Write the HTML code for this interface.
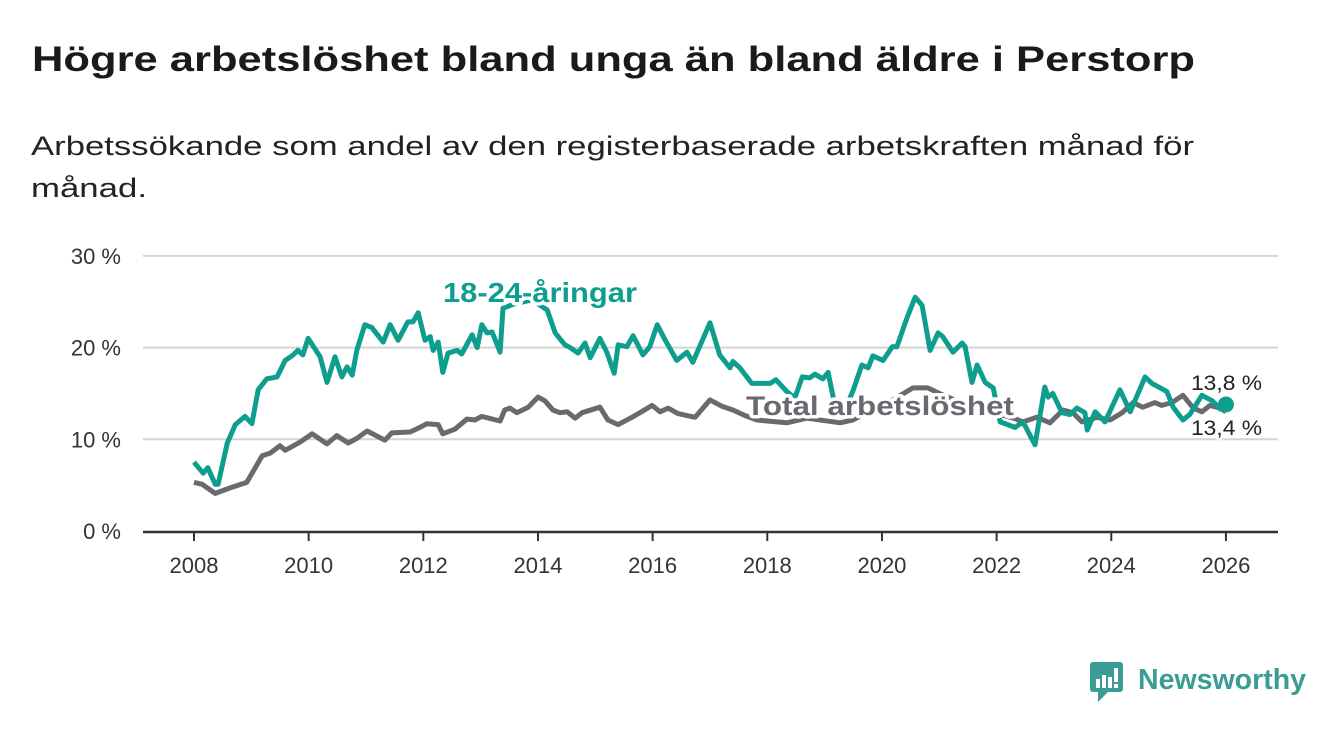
<!DOCTYPE html>
<html><head><meta charset="utf-8"><style>
html,body{margin:0;padding:0;background:#fff;}
svg{display:block;font-family:"Liberation Sans","DejaVu Sans",sans-serif;}
</style></head><body>
<svg id="chart" width="1340" height="734" viewBox="0 0 1340 734" xmlns="http://www.w3.org/2000/svg">
<rect width="1340" height="734" fill="#fff"/>
<text x="32" y="71" font-size="35" font-weight="bold" fill="#1a1a1a" textLength="1163" lengthAdjust="spacingAndGlyphs">Högre arbetslöshet bland unga än bland äldre i Perstorp</text>
<text x="31" y="155" font-size="27" fill="#222" textLength="1163" lengthAdjust="spacingAndGlyphs">Arbetssökande som andel av den registerbaserade arbetskraften månad för</text>
<text x="31" y="197" font-size="27" fill="#222" textLength="116" lengthAdjust="spacingAndGlyphs">månad.</text>
<g id="grid"></g>
<g id="axes"></g>
<g id="series"></g>
<g id="labels"></g>
<g>
<rect x="1090" y="662" width="33" height="30" rx="3" fill="#3b9c95"/>
<polygon points="1098,692 1108,692 1098,702" fill="#3b9c95"/>
<rect x="1096" y="679" width="4" height="9" fill="#fff"/>
<rect x="1102" y="675" width="4" height="13" fill="#fff"/>
<rect x="1108" y="677" width="4" height="11" fill="#fff"/>
<rect x="1114" y="668" width="4" height="14" fill="#fff"/>
<rect x="1114" y="684" width="4" height="4" fill="#fff"/>
<text x="1138" y="689" font-size="29" font-weight="bold" fill="#3b9c95" textLength="168" lengthAdjust="spacingAndGlyphs">Newsworthy</text>
</g>
</svg>
<script>
const yTicks = [0, 10, 20, 30];
const yTickLabels = ["0 %", "10 %", "20 %", "30 %"];
const xTicks = [2008, 2010, 2012, 2014, 2016, 2018, 2020, 2022, 2024, 2026];
const youthYears = [2008.0,2008.16,2008.24,2008.37,2008.42,2008.58,2008.72,2008.89,2009.01,2009.12,2009.27,2009.45,2009.59,2009.73,2009.81,2009.90,2009.99,2010.20,2010.32,2010.46,2010.58,2010.67,2010.76,2010.84,2010.98,2011.10,2011.30,2011.42,2011.56,2011.73,2011.82,2011.91,2012.03,2012.12,2012.17,2012.26,2012.34,2012.43,2012.59,2012.67,2012.85,2012.94,2013.02,2013.11,2013.20,2013.34,2013.39,2013.6,2013.9,2014.16,2014.30,2014.47,2014.56,2014.70,2014.82,2014.91,2015.08,2015.20,2015.33,2015.40,2015.55,2015.66,2015.83,2015.95,2016.08,2016.22,2016.42,2016.60,2016.70,2017.00,2017.17,2017.35,2017.40,2017.52,2017.73,2018.05,2018.15,2018.34,2018.48,2018.61,2018.74,2018.83,2018.97,2019.06,2019.15,2019.30,2019.49,2019.65,2019.76,2019.84,2020.02,2020.18,2020.26,2020.44,2020.58,2020.70,2020.84,2020.98,2021.06,2021.24,2021.40,2021.45,2021.57,2021.66,2021.80,2021.94,2022.06,2022.32,2022.46,2022.67,2022.84,2022.90,2022.98,2023.14,2023.28,2023.40,2023.54,2023.58,2023.72,2023.89,2024.15,2024.33,2024.59,2024.71,2024.97,2025.08,2025.25,2025.37,2025.58,2025.76,2025.90,2026.0];
const youthValues = [7.5,6.3,6.9,5.1,5.1,9.6,11.6,12.5,11.7,15.4,16.6,16.8,18.6,19.2,19.7,19.2,21.0,19.0,16.2,19.0,16.8,17.9,17.0,19.7,22.5,22.2,20.6,22.5,20.8,22.8,22.8,23.8,20.8,21.2,19.7,20.6,17.3,19.4,19.7,19.3,21.4,20.0,22.5,21.6,21.7,19.5,24.3,24.8,25.2,24.1,21.6,20.3,20.0,19.4,20.5,18.9,21.0,19.5,17.2,20.3,20.1,21.3,19.2,20.1,22.5,20.8,18.6,19.5,18.4,22.7,19.2,17.8,18.5,17.8,16.1,16.1,16.5,15.2,14.5,16.8,16.7,17.1,16.6,17.3,14.6,12.5,15.2,18.1,17.8,19.1,18.6,20.1,20.1,23.3,25.5,24.6,19.7,21.6,21.2,19.5,20.5,20.1,16.2,18.1,16.2,15.6,11.9,11.3,11.9,9.4,15.7,14.6,15.0,12.9,12.7,13.4,12.9,11.0,13.0,11.9,15.4,13.0,16.8,16.1,15.2,13.5,12.1,12.7,14.8,14.2,13.3,13.8];
const totalYears = [2008.0,2008.14,2008.37,2008.63,2008.92,2009.19,2009.33,2009.50,2009.59,2009.85,2010.06,2010.32,2010.49,2010.69,2010.84,2011.02,2011.33,2011.45,2011.77,2011.94,2012.06,2012.26,2012.34,2012.55,2012.76,2012.90,2013.02,2013.34,2013.42,2013.51,2013.63,2013.83,2014.0,2014.12,2014.26,2014.38,2014.51,2014.65,2014.77,2015.08,2015.22,2015.40,2015.61,2015.78,2015.99,2016.13,2016.27,2016.44,2016.74,2017.0,2017.21,2017.40,2017.61,2017.82,2018.0,2018.34,2018.69,2019.27,2019.49,2019.84,2020.19,2020.54,2020.8,2021.0,2021.3,2021.6,2022.0,2022.3,2022.46,2022.70,2022.93,2023.16,2023.33,2023.49,2023.75,2023.98,2024.19,2024.38,2024.55,2024.76,2024.88,2025.06,2025.25,2025.43,2025.58,2025.72,2025.90,2026.0];
const totalValues = [5.3,5.1,4.1,4.7,5.3,8.2,8.5,9.3,8.8,9.7,10.6,9.5,10.4,9.6,10.1,10.9,9.9,10.7,10.8,11.3,11.7,11.6,10.6,11.1,12.2,12.1,12.5,12.0,13.2,13.4,12.9,13.5,14.6,14.2,13.2,12.9,13.0,12.3,12.9,13.5,12.1,11.6,12.3,12.9,13.7,13.0,13.4,12.8,12.4,14.3,13.6,13.2,12.6,12.1,12.0,11.8,12.3,11.8,12.1,13.2,14.3,15.6,15.6,15.0,14.2,13.4,12.8,12.3,11.9,12.4,11.8,13.2,12.9,11.9,12.4,12.1,12.9,14.0,13.5,14.0,13.7,14.0,14.8,13.4,13.0,13.7,13.4,13.0,13.4];

const NS='http://www.w3.org/2000/svg';
const X0=143,X1=1278,Y0=531,PXV=9.17;
function xs(y){return 194+(y-2008)*57.33;}
function ys(v){return Y0-v*PXV;}
function mk(tag,attrs,parent){const e=document.createElementNS(NS,tag);for(const k in attrs)e.setAttribute(k,attrs[k]);parent.appendChild(e);return e;}
const grid=document.getElementById('grid'),axes=document.getElementById('axes'),series=document.getElementById('series'),labels=document.getElementById('labels');
yTicks.forEach((t,i)=>{
  if(t>0){const g=mk('line',{x1:X0,x2:X1,y1:ys(t),y2:ys(t),stroke:'#d4d4d4','stroke-width':2},grid);
  
  }
  const tx=mk('text',{x:121,y:ys(t)+8,'font-size':22,fill:'#333','text-anchor':'end'},axes);
  tx.textContent=yTickLabels[i];
  
  
});
const ax=mk('line',{x1:X0,x2:X1,y1:Y0+1,y2:Y0+1,stroke:'#333','stroke-width':2.5},axes);


xTicks.forEach(t=>{
  const l=mk('line',{x1:xs(t),x2:xs(t),y1:Y0+1,y2:Y0+10,stroke:'#333','stroke-width':2},axes);
  
  
  const tx=mk('text',{x:xs(t),y:573,'font-size':22,fill:'#333','text-anchor':'middle'},axes);
  tx.textContent=String(t);
  
  
});
function path(yrs,vals){return yrs.map((y,i)=>(i?'L':'M')+xs(y).toFixed(1)+','+ys(vals[i]).toFixed(1)).join('');}
const tp=mk('path',{d:path(totalYears,totalValues),fill:'none',stroke:'#6b686f','stroke-width':5,'stroke-linejoin':'round'},series);


const yp=mk('path',{d:path(youthYears,youthValues),fill:'none',stroke:'#0e9e8e','stroke-width':5,'stroke-linejoin':'round'},series);


const dot=mk('circle',{cx:xs(youthYears[youthYears.length-1]),cy:ys(youthValues[youthValues.length-1]),r:8,fill:'#0e9e8e'},series);


function lab(txt,x,y,size,fill,bold,len,name){
  const t=mk('text',{x:x,y:y,'font-size':size,fill:fill,'font-weight':bold?'bold':'normal',stroke:'#fff','stroke-width':bold?7:5,'paint-order':'stroke','stroke-linejoin':'round',textLength:len,lengthAdjust:'spacingAndGlyphs'},labels);
  t.textContent=txt;
  
  
}
lab('18-24-åringar',443,302,28,'#0e9e8e',true,194,'youth-series-label');
lab('Total arbetslöshet',746,415,27,'#6b686f',true,268,'total-series-label');
lab('13,8 %',1191,390,21,'#222',false,71,'youth-end-value');
lab('13,4 %',1191,435,21,'#222',false,71,'total-end-value');
</script>
</body></html>
